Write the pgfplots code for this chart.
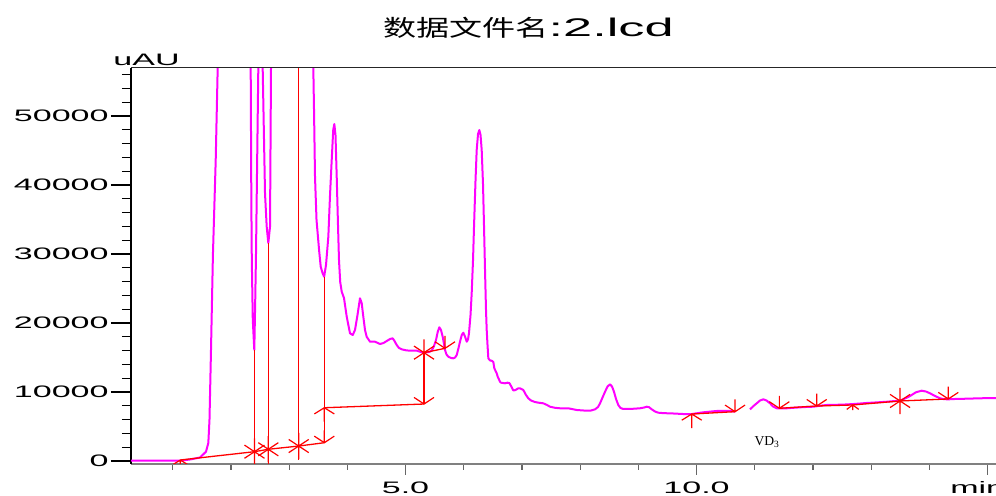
\documentclass[border=0pt]{standalone}
\usepackage{pgfplots}
\pgfplotsset{compat=1.18}
\usepackage{fontspec}
\newfontfamily\ticfont[FakeStretch=2.05]{Liberation Sans}
\newfontfamily\cjkfont[FakeStretch=1.45]{Noto Sans CJK SC}
\newfontfamily\vdfont{Liberation Serif}
\definecolor{trace}{HTML}{FF00FF}
\definecolor{integ}{HTML}{FF0000}

% integration marks
\pgfdeclareplotmark{pkend}{%
  \pgfpathmoveto{\pgfqpoint{-5pt}{3.3pt}}\pgfpathlineto{\pgfpointorigin}\pgfpathlineto{\pgfqpoint{5pt}{3.3pt}}%
  \pgfpathmoveto{\pgfpointorigin}\pgfpathlineto{\pgfqpoint{0pt}{6.2pt}}%
  \pgfusepathqstroke}
\pgfdeclareplotmark{pkstart}{%
  \pgfpathmoveto{\pgfqpoint{-5pt}{-3.1pt}}\pgfpathlineto{\pgfpointorigin}\pgfpathlineto{\pgfqpoint{5pt}{-3.1pt}}%
  \pgfpathmoveto{\pgfpointorigin}\pgfpathlineto{\pgfqpoint{0pt}{-7pt}}%
  \pgfusepathqstroke}
\pgfdeclareplotmark{pksmall}{%
  \pgfpathmoveto{\pgfqpoint{-3pt}{-2.2pt}}\pgfpathlineto{\pgfpointorigin}\pgfpathlineto{\pgfqpoint{3pt}{-2.2pt}}%
  \pgfpathmoveto{\pgfpointorigin}\pgfpathlineto{\pgfqpoint{0pt}{-2.6pt}}%
  \pgfusepathqstroke}
\pgfdeclareplotmark{pkstar}{%
  \pgfpathmoveto{\pgfqpoint{-5pt}{-3.3pt}}\pgfpathlineto{\pgfqpoint{5pt}{3.3pt}}%
  \pgfpathmoveto{\pgfqpoint{-5pt}{3.3pt}}\pgfpathlineto{\pgfqpoint{5pt}{-3.3pt}}%
  \pgfpathmoveto{\pgfqpoint{0pt}{-6.6pt}}\pgfpathlineto{\pgfqpoint{0pt}{6.6pt}}%
  \pgfusepathqstroke}

\begin{document}
\begin{tikzpicture}
\useasboundingbox (-65.5pt,-15.62pt) rectangle (432.5pt,231.88pt);
\begin{axis}[
  width=437pt, height=198.03pt, scale only axis,
  xmin=0.2835, xmax=15.3, ymin=-400, ymax=57000,
  axis x line*=bottom, axis y line*=left,
  x axis line style={draw=gray, line width=1pt},
  y axis line style={draw=black, line width=0.75pt},
  tick align=outside,
  scaled y ticks=false, scaled x ticks=false,
  xtick={5,10,15}, xticklabels={5.0,10.0,{}},
  minor xtick={1,2,3,4,6,7,8,9,11,12,13,14},
  ytick={0,10000,20000,30000,40000,50000},
  yticklabels={0,10000,20000,30000,40000,50000},
  minor ytick={2000,4000,6000,8000,12000,14000,16000,18000,22000,24000,26000,28000,
    32000,34000,36000,38000,42000,44000,46000,48000,52000,54000,56000},
  major tick length=10pt, minor tick length=4.5pt,
  xtick style={/pgfplots/major tick length=5.5pt, /pgfplots/minor tick length=3pt,
    draw=gray!80!black, line width=0.6pt},
  ytick style={draw=black, line width=0.6pt},
  ticklabel style={font=\ticfont\fontsize{8.3}{10}\selectfont},
  yticklabel style={inner xsep=1pt},
  xticklabel style={yshift=4.3pt},
  clip mode=individual, clip marker paths=true,
]
% chromatogram trace
\addplot[trace, line width=1pt, line join=round] coordinates {
(0.284,40) (0.61,40) (1.143,70) (1.297,220) (1.469,510) (1.572,1350) (1.612,2610)
(1.632,5940) (1.658,16090) (1.691,29860) (1.739,43620) (1.773,56960) (2.0,250000)
(2.340,56960) (2.351,37830) (2.359,29130) (2.376,20430) (2.402,16090) (2.418,23330)
(2.431,29860) (2.471,56960) (2.51,120000) (2.546,56960) (2.586,38800) (2.615,33960)
(2.643,31590) (2.672,33960) (2.689,56960) (2.9,200000) (3.165,100000) (3.35,180000)
(3.416,56960) (3.428,50870) (3.445,41200) (3.471,34930) (3.515,30580) (3.543,28160)
(3.574,27250) (3.602,26710) (3.634,28410) (3.674,32510) (3.703,38550) (3.732,43620)
(3.758,47970) (3.777,48840) (3.797,47250) (3.818,41200) (3.840,34200) (3.857,29130)
(3.878,25940) (3.904,24540) (3.943,23620) (3.990,20910) (4.046,18510) (4.093,18260)
(4.132,18990) (4.175,21160) (4.218,23580) (4.247,22900) (4.275,20910) (4.304,18990)
(4.333,18010) (4.390,17290) (4.476,17290) (4.562,16960) (4.622,17100) (4.677,17390)
(4.734,17680) (4.780,17780) (4.811,17390) (4.849,16810) (4.888,16380) (4.935,16190)
(5.009,16040) (5.077,15990) (5.192,15990) (5.266,15800) (5.318,15700) (5.404,15800)
(5.450,15990) (5.490,16670) (5.524,17540) (5.553,18700) (5.581,19380) (5.610,18990)
(5.639,18010) (5.661,16960) (5.679,16090) (5.704,15440) (5.735,15120) (5.782,14930)
(5.821,14880) (5.851,15000) (5.880,15360) (5.911,16380) (5.936,17290) (5.966,18260)
(5.993,18590) (6.022,18040) (6.052,17290) (6.074,17610) (6.091,18550) (6.117,21160)
(6.137,24300) (6.160,29130) (6.177,33960) (6.203,40720) (6.223,45070) (6.246,47390)
(6.268,47970) (6.289,47250) (6.309,45070) (6.332,40000) (6.349,33960) (6.366,27680)
(6.383,21880) (6.395,18990) (6.409,16810) (6.423,14880) (6.452,14570) (6.481,14540)
(6.509,14350) (6.526,13430) (6.567,12710) (6.584,12220) (6.624,11490) (6.641,11350)
(6.710,11260) (6.753,11350) (6.784,11300) (6.813,10870) (6.852,10220) (6.890,10290)
(6.938,10540) (6.967,10540) (7.024,10290) (7.070,9570) (7.110,9090) (7.156,8770)
(7.225,8550) (7.294,8440) (7.368,8360) (7.431,8120) (7.483,7870) (7.569,7710)
(7.655,7640) (7.797,7640) (7.942,7390) (8.113,7290) (8.187,7320) (8.256,7490)
(8.308,7830) (8.342,8360) (8.385,9200) (8.428,10040) (8.471,10800) (8.514,11120)
(8.548,10800) (8.582,10040) (8.617,8990) (8.656,8120) (8.694,7680) (8.742,7540)
(8.857,7540) (9.029,7640) (9.098,7750) (9.144,7870) (9.184,7800) (9.230,7490)
(9.287,7170) (9.344,7000) (9.442,6930) (9.545,6910) (9.773,6810) (9.918,6810)
(10.117,7060) (10.347,7250) (10.576,7250) (10.662,7150)
};
\addplot[trace, line width=1pt, line join=round] coordinates {
(10.919,7490) (10.979,7970) (11.034,8360) (11.091,8770) (11.148,8940) (11.203,8770)
(11.263,8360) (11.314,7900) (11.378,7640) (11.452,7610) (11.550,7640) (11.658,7710)
(11.778,7780) (11.881,7830) (12.007,7870) (12.122,8010) (12.237,8120) (12.345,8140)
(12.466,8160) (12.581,8200) (12.694,8260) (12.809,8330) (12.924,8410) (13.084,8490)
(13.268,8590) (13.376,8670) (13.497,8740) (13.582,9060) (13.668,9420) (13.771,9970)
(13.869,10190) (13.943,10070) (14.012,9810) (14.098,9420) (14.184,9090) (14.253,8960)
(14.326,8940) (14.441,8990) (14.643,9030) (14.871,9090) (15.146,9130) (15.3,9150)
};
% baselines
\addplot[integ, line width=0.65pt] coordinates {(1.131,145) (2.405,1350) (2.643,1700) (3.165,2170) (3.605,2650)};
\addplot[integ, line width=0.65pt] coordinates {(3.605,7720) (5.318,8260)};
\addplot[integ, line width=0.65pt] coordinates {(5.318,15700) (5.679,16330)};
\addplot[integ, line width=0.65pt] coordinates {(9.918,6810) (10.662,7150)};
\addplot[integ, line width=0.65pt] coordinates {(11.423,7640) (12.065,7970) (12.684,8120) (13.497,8700) (14.326,8990)};
% drop lines
\addplot[integ, line width=0.65pt] coordinates {(2.405,16090) (2.405,-400)};
\addplot[integ, line width=0.65pt] coordinates {(2.643,31590) (2.643,-400)};
\addplot[integ, line width=0.65pt] coordinates {(3.165,60000) (3.165,150)};
\addplot[integ, line width=0.65pt] coordinates {(3.605,26710) (3.605,2650)};
\addplot[integ, line width=0.65pt] coordinates {(5.318,15700) (5.318,8260)};
% peak marks
\addplot[integ, only marks, mark=pkstar, mark options={line width=0.6pt}] coordinates {
(2.405,1350) (2.643,1700) (3.165,2170) (5.318,15700) (13.497,8700)};
\addplot[integ, only marks, mark=pkend, mark options={line width=0.6pt}] coordinates {
(3.605,2650) (5.318,8260) (5.679,16330) (10.662,7150) (11.423,7640) (12.065,7970) (14.326,8990)};
\addplot[integ, only marks, mark=pkstart, mark options={line width=0.6pt}] coordinates {
(1.131,145) (3.605,7720) (9.918,6810)};
\addplot[integ, only marks, mark=pksmall, mark options={line width=0.6pt}] coordinates {(12.684,8120)};
% frame top and texts
\draw[black!85, line width=0.75pt] (rel axis cs:0,1) -- (rel axis cs:1,1);
\node[anchor=base west, inner sep=0pt] at (rel axis cs:0.2883,1.0783)
  {{\cjkfont\fontsize{11.4}{13}\selectfont 数据文件名}{\ticfont\fontsize{12.75}{14}\selectfont :2.lcd}};
\node[anchor=base west, inner sep=0pt, font=\ticfont\fontsize{8.3}{10}\selectfont] at (rel axis cs:-0.0206,1.0068) {uAU};
\node[anchor=base west, inner sep=0pt, font=\ticfont\fontsize{8.3}{10}\selectfont] at (rel axis cs:0.937,-0.0738) {min};
\node[anchor=base west, inner sep=0pt, font=\vdfont\fontsize{6.8}{8}\selectfont] at (axis cs:10.99,2217) {VD\textsubscript{3}};
\end{axis}
\end{tikzpicture}
\end{document}
